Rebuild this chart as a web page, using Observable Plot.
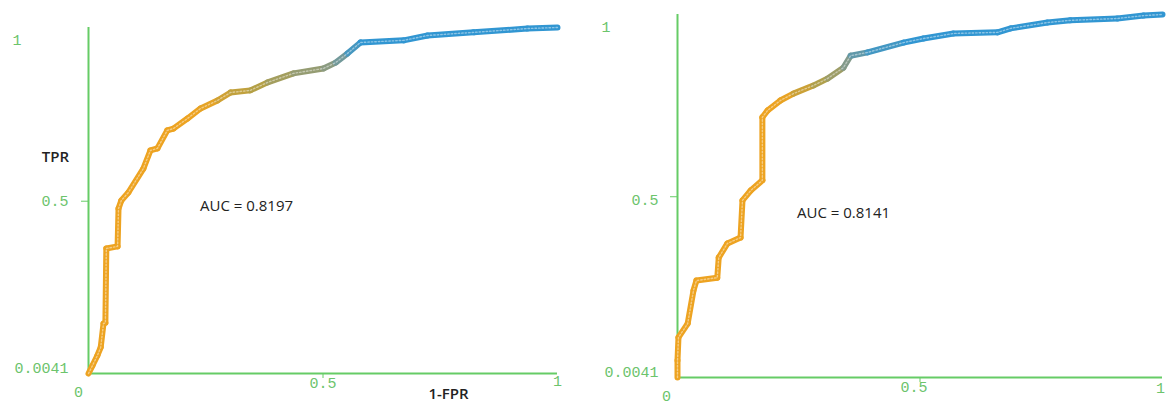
<!DOCTYPE html>
<html><head><meta charset="utf-8">
<script src="https://cdn.jsdelivr.net/npm/d3@7"></script>
<script src="https://cdn.jsdelivr.net/npm/@observablehq/plot@0.6"></script>
<style>
body{margin:0;background:#fff;}
#wrap{display:flex;width:1169px;height:406px;overflow:hidden;}
#wrap svg{display:block;flex:none;}
</style></head><body><div id="wrap"></div>
<script>
// ---- data ----
const leftFPR = [0, .0085, .019, .026, .032, .036, .038, .062, .064, .070, .085, .117, .132, .147, .168, .181, .211, .239, .275, .303, .345, .382, .437, .501, .527, .552, .580, .672, .723, .821, .936, 1];
const leftTPR = [.0041, .027, .056, .079, .148, .150, .364, .370, .479, .502, .525, .594, .646, .652, .704, .709, .738, .767, .790, .813, .819, .842, .868, .882, .899, .925, .957, .963, .977, .986, .997, 1];
const rightFPR = [0, 0, .002, .021, .033, .039, .082, .085, .103, .130, .134, .151, .175, .175, .186, .212, .239, .280, .309, .342, .357, .392, .466, .507, .569, .660, .687, .763, .810, .907, .961, 1];
const rightTPR = [.0041, .051, .114, .152, .243, .270, .278, .333, .372, .388, .490, .517, .545, .718, .737, .764, .783, .805, .824, .854, .887, .896, .923, .934, .948, .951, .962, .978, .984, .989, .997, 1];
const yTicks = [0.0041, 0.5, 1];
const xTicks = [0, 0.5, 1];
const yTickLabels = ["0.0041", "0.5", "1"];
const xTickLabels = ["0", "0.5", "1"];
const aucLeft = "AUC = 0.8197";
const aucRight = "AUC = 0.8141";
const xTitle = "1-FPR";
const yTitle = "TPR";

// ---- styles ----
const green = "#66cc66";
const tickText = "#6cc46c";
const curveColors = ["#eda321", "#b4a046", "#849a8a", "#3196d2"];
const monoFont = "Liberation Mono";
const sansFont = "Open Sans";

function segments(X, Y) {
  const s = [];
  for (let i = 0; i < X.length - 1; i++) s.push({x1: X[i], y1: Y[i], x2: X[i + 1], y2: Y[i + 1], ym: (Y[i] + Y[i + 1]) / 2});
  return s;
}
function points(X, Y) { return X.map((x, i) => ({x, y: Y[i]})); }

function tickLabel(i, axis, opts) {
  const base = {fill: tickText, fontFamily: monoFont, fontSize: 15, text: d => d.t};
  if (axis === "y") return Plot.text([{v: yTicks[i], t: yTickLabels[i]}], {x: 0, y: "v", ...base, ...opts});
  return Plot.text([{v: xTicks[i], t: xTickLabels[i]}], {x: "v", y: yTicks[0], ...base, ...opts});
}

function curveMarks(X, Y) {
  return [
    Plot.link(segments(X, Y), {x1: "x1", y1: "y1", x2: "x2", y2: "y2", stroke: "ym", strokeWidth: 6, strokeLinecap: "round", strokeLinejoin: "round"}),
    Plot.line(points(X, Y), {x: "x", y: "y", stroke: "white", strokeOpacity: 0.45, strokeWidth: 1.4, strokeDasharray: "1.5,2"})
  ];
}

function axisMarks() {
  return [
    Plot.ruleX([xTicks[0]], {stroke: green, strokeWidth: 2}),
    Plot.ruleY([yTicks[0]], {stroke: green, strokeWidth: 2}),
    Plot.axisY([yTicks[1]], {tickSize: 7, stroke: green, tickFormat: () => ""}),
    Plot.axisX([xTicks[1]], {tickSize: 5, stroke: green, tickFormat: () => ""})
  ];
}

const labelStyle = {fill: "#222", fontFamily: sansFont, textAnchor: "middle"};

const left = Plot.plot({
  width: 580, height: 406,
  marginLeft: 88, marginRight: 23, marginTop: 27, marginBottom: 33,
  x: {domain: [0, 1], axis: null},
  y: {domain: [yTicks[0], 1], axis: null},
  color: {type: "linear", domain: [0.77, 0.83, 0.9, 0.955], range: curveColors, clamp: true},
  style: {background: "white", overflow: "visible"},
  marks: [
    ...axisMarks(),
    ...curveMarks(leftFPR, leftTPR),
    tickLabel(0, "y", {textAnchor: "end", dx: -20, dy: -5}),
    tickLabel(1, "y", {textAnchor: "end", dx: -20, dy: 0}),
    tickLabel(2, "y", {textAnchor: "start", dx: -76, dy: 13}),
    tickLabel(0, "x", {dx: -10, dy: 19}),
    tickLabel(1, "x", {dx: 0, dy: 10}),
    tickLabel(2, "x", {dx: 0, dy: 8}),
    Plot.text([aucLeft], {frameAnchor: "top-left", dx: 158, dy: 173, fontSize: 15, fontWeight: 500, ...labelStyle}),
    Plot.text([yTitle], {frameAnchor: "top-left", dx: -33, dy: 124, fontSize: 15, fontWeight: 600, ...labelStyle}),
    Plot.text([xTitle], {frameAnchor: "bottom-left", dx: 360, dy: 25, fontSize: 15, fontWeight: 600, ...labelStyle})
  ]
});

const right = Plot.plot({
  width: 589, height: 406,
  marginLeft: 97, marginRight: 7, marginTop: 14, marginBottom: 29,
  x: {domain: [0, 1], axis: null},
  y: {domain: [yTicks[0], 1], axis: null},
  color: {type: "linear", domain: [0.77, 0.81, 0.87, 0.92], range: curveColors, clamp: true},
  style: {background: "white", overflow: "visible"},
  marks: [
    ...axisMarks(),
    ...curveMarks(rightFPR, rightTPR),
    tickLabel(0, "y", {textAnchor: "end", dx: -19, dy: -5}),
    tickLabel(1, "y", {textAnchor: "end", dx: -19, dy: 3}),
    tickLabel(2, "y", {textAnchor: "start", dx: -76, dy: 13}),
    tickLabel(0, "x", {dx: -11, dy: 19}),
    tickLabel(1, "x", {dx: -6, dy: 10}),
    tickLabel(2, "x", {dx: -2, dy: 11}),
    Plot.text([aucRight], {frameAnchor: "top-left", dx: 166, dy: 193, fontSize: 15, fontWeight: 500, ...labelStyle})
  ]
});

document.getElementById("wrap").append(left, right);
</script></body></html>
